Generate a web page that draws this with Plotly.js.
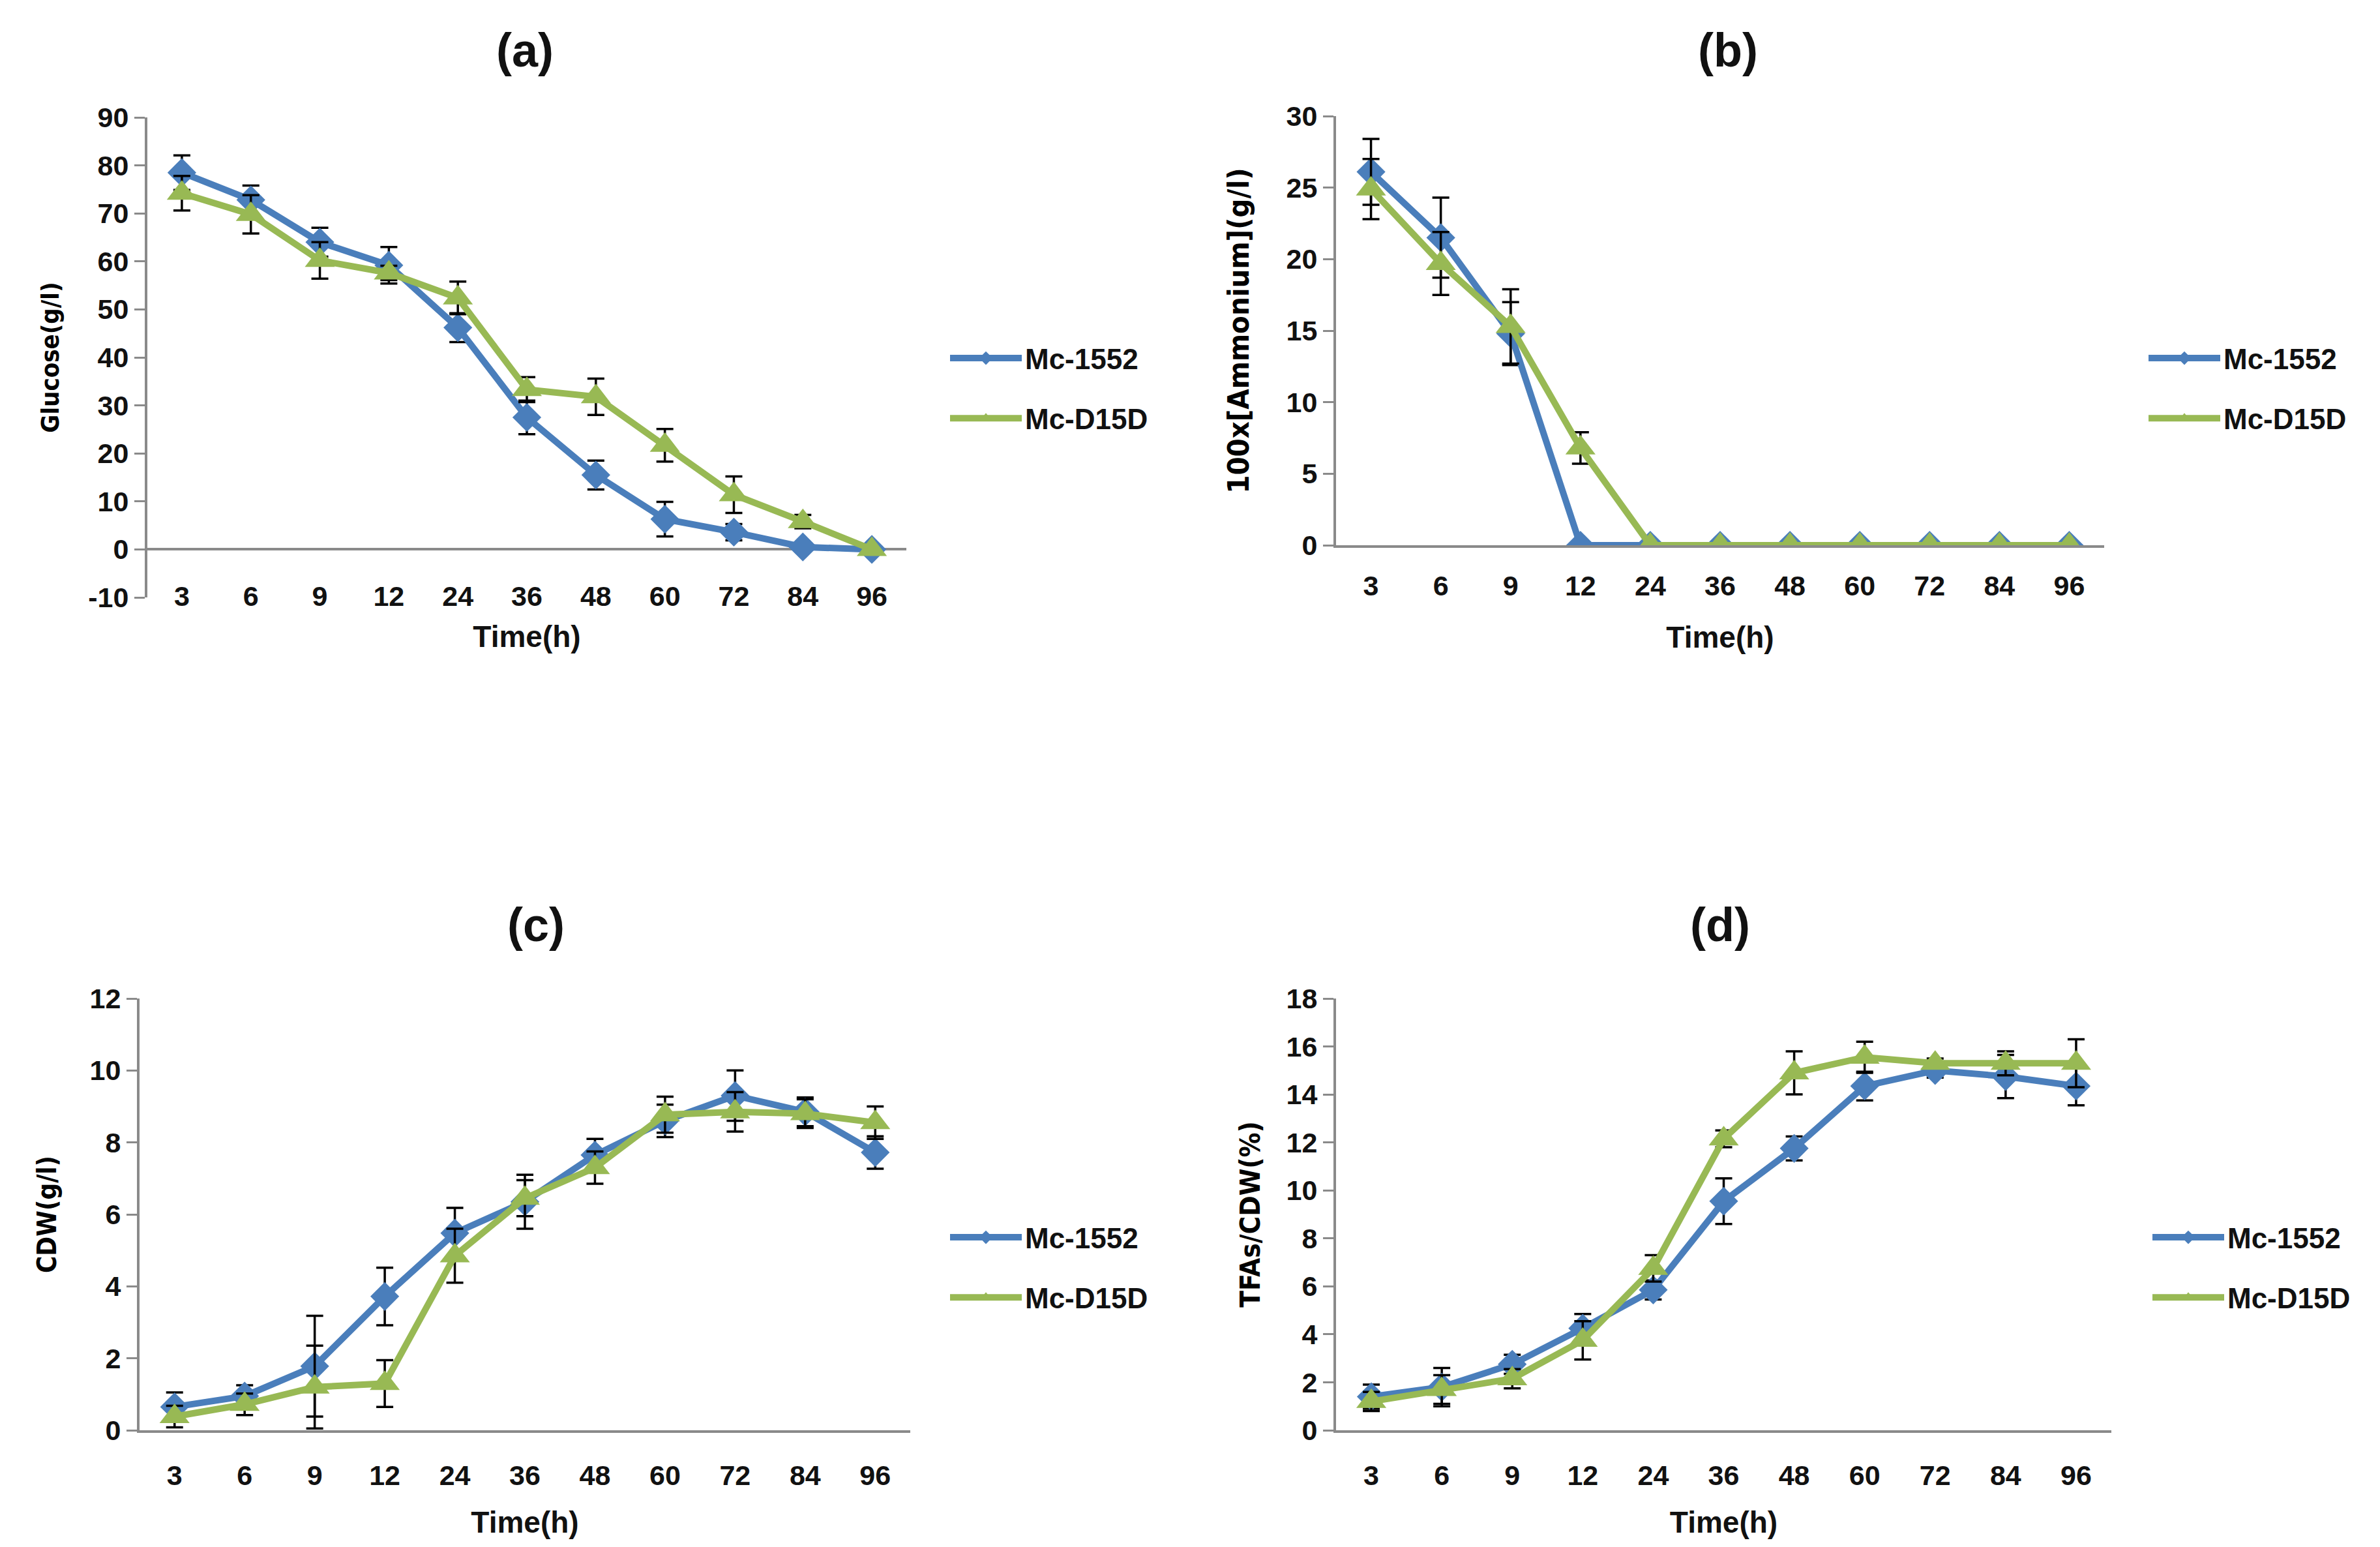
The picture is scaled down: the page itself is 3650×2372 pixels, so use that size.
<!DOCTYPE html>
<html>
<head>
<meta charset="utf-8">
<script src="https://cdn.plot.ly/plotly-3.0.1.min.js"></script>
<style>html,body{margin:0;padding:0;background:#fff;}#chart{width:3650px;height:2372px;}</style>
</head>
<body>
<div id="chart"></div>
<script>
// ---- data ----
const times = ['3','6','9','12','24','36','48','60','72','84','96'];
const seriesNames = ['Mc-1552','Mc-D15D'];

const glucose1552 = [78.5, 72.8, 64.0, 59.2, 46.2, 27.5, 15.5, 6.3, 3.6, 0.5, 0];
const glucose1552Err = [3.6, 3.0, 3.0, 3.8, 3.0, 3.5, 3.0, 3.6, 1.7, 0.5, 0];
const glucoseD15D = [74.2, 69.8, 60.2, 57.6, 52.4, 33.3, 31.8, 21.7, 11.4, 5.8, 0];
const glucoseD15DErr = [3.6, 4.0, 3.8, 1.5, 3.4, 2.6, 3.8, 3.4, 3.8, 1.4, 0];

const ammonium1552 = [26.1, 21.5, 14.8, 0, 0, 0, 0, 0, 0, 0, 0];
const ammonium1552Err = [2.3, 2.8, 2.2, 0, 0, 0, 0, 0, 0, 0, 0];
const ammoniumD15D = [24.9, 19.7, 15.3, 6.8, 0, 0, 0, 0, 0, 0, 0];
const ammoniumD15DErr = [2.1, 2.2, 2.6, 1.1, 0, 0, 0, 0, 0, 0, 0];

const cdw1552 = [0.65, 0.95, 1.78, 3.72, 5.48, 6.35, 7.65, 8.6, 9.3, 8.85, 7.72];
const cdw1552Err = [0.4, 0.3, 1.4, 0.8, 0.7, 0.75, 0.45, 0.45, 0.7, 0.4, 0.45];
const cdwD15D = [0.38, 0.72, 1.2, 1.3, 4.85, 6.45, 7.3, 8.77, 8.85, 8.8, 8.55];
const cdwD15DErr = [0.3, 0.3, 1.15, 0.65, 0.75, 0.5, 0.45, 0.5, 0.55, 0.4, 0.45];

const tfa1552 = [1.4, 1.8, 2.75, 4.25, 5.85, 9.55, 11.75, 14.35, 15.0, 14.75, 14.35];
const tfa1552Err = [0.5, 0.8, 0.4, 0.6, 0.4, 0.95, 0.5, 0.6, 0.3, 0.9, 0.8];
const tfaD15D = [1.2, 1.7, 2.15, 3.75, 6.75, 12.15, 14.9, 15.55, 15.3, 15.3, 15.3];
const tfaD15DErr = [0.4, 0.6, 0.4, 0.8, 0.55, 0.35, 0.9, 0.65, 0.2, 0.5, 1.0];

const glucoseTickVals = [-10, 0, 10, 20, 30, 40, 50, 60, 70, 80, 90];
const glucoseTickText = ['-10', '0', '10', '20', '30', '40', '50', '60', '70', '80', '90'];

const panelLabels = ['(a)','(b)','(c)','(d)'];
const yTitles = ['Glucose(g/l)','100x[Ammonium](g/l)','CDW(g/l)','TFAs/CDW(%)'];
const xTitle = 'Time(h)';

// ---- styles ----
const W = 3650, H = 2372;
const BLUE = '#4a7ebb', GREEN = '#98b954', AX = '#8a8a8a';
const FONT = 'Liberation Sans, Arial, sans-serif';
const YFONT = 'DejaVu Sans Condensed, DejaVu Sans, sans-serif';

const panels = [
  {s1: glucose1552, e1: glucose1552Err, s2: glucoseD15D, e2: glucoseD15DErr},
  {s1: ammonium1552, e1: ammonium1552Err, s2: ammoniumD15D, e2: ammoniumD15DErr},
  {s1: cdw1552, e1: cdw1552Err, s2: cdwD15D, e2: cdwD15DErr},
  {s1: tfa1552, e1: tfa1552Err, s2: tfaD15D, e2: tfaD15DErr}
];

const px = v => v / W;
const py = v => 1 - v / H;

const geo = [
  {x0: 226, x1: 1390, yTop: 180, yBot: 916, range: [-10, 90], dtick: 10, legX: 1452, legY: 514, titleX: 805, titleY: 77, ytSize: 38, ytStand: 34, lblStand: 0, xtStand: 22},
  {x0: 2049, x1: 3227, yTop: 178, yBot: 836, range: [0, 30], dtick: 5, legX: 3290, legY: 514, titleX: 2650, titleY: 77, ytSize: 45, ytStand: 44, lblStand: 21, xtStand: 41},
  {x0: 214, x1: 1396, yTop: 1531, yBot: 2193, range: [0, 12], dtick: 2, legX: 1452, legY: 1862, titleX: 822, titleY: 1418, ytSize: 40, ytStand: 40, lblStand: 28, xtStand: 34},
  {x0: 2049, x1: 3238, yTop: 1531, yBot: 2193, range: [0, 18], dtick: 2, legX: 3296, legY: 1862, titleX: 2638, titleY: 1418, ytSize: 42, ytStand: 28, lblStand: 28, xtStand: 34}
];

const errStyle = (arr) => ({type: 'data', array: arr, visible: true, color: '#000', thickness: 3.5, width: 13});

const traces = [];
panels.forEach((p, i) => {
  const n = i === 0 ? '' : String(i + 1);
  const leg = i === 0 ? 'legend' : 'legend' + (i + 1);
  traces.push({
    x: times, y: p.s1, name: seriesNames[0], type: 'scatter', mode: 'lines+markers',
    xaxis: 'x' + n, yaxis: 'y' + n, legend: leg, legendgroup: 'a' + i,
    line: {color: BLUE, width: 10},
    marker: {symbol: 'diamond', size: 34, color: BLUE},
    error_y: errStyle(p.e1)
  });
  traces.push({
    x: times, y: p.s2, name: seriesNames[1], type: 'scatter', mode: 'lines+markers',
    xaxis: 'x' + n, yaxis: 'y' + n, legend: leg, legendgroup: 'b' + i,
    line: {color: GREEN, width: 10},
    marker: {symbol: 'triangle-up', size: 40, color: GREEN},
    error_y: errStyle(p.e2)
  });
});

const layout = {
  width: W, height: H,
  margin: {l: 0, r: 0, t: 0, b: 0},
  paper_bgcolor: '#fff', plot_bgcolor: '#fff',
  font: {family: FONT, color: '#000'},
  annotations: []
};

geo.forEach((g, i) => {
  const n = i === 0 ? '' : String(i + 1);
  const xa = {
    type: 'category', domain: [px(g.x0), px(g.x1)], range: [-0.5, 10.5],
    showgrid: false, zeroline: false, ticks: '',
    tickfont: {family: FONT, size: 43, weight: 'bold', color: '#111'},
    title: {text: xTitle, font: {family: FONT, size: 46, weight: 'bold', color: '#111'}, standoff: g.xtStand},
    fixedrange: true
  };
  if (i === 0) {
    xa.anchor = 'free';
    xa.position = py(885);
    xa.showline = false;
  } else {
    xa.anchor = 'y' + n;
    xa.showline = true; xa.linecolor = AX; xa.linewidth = 4;
    xa.ticklabelstandoff = g.lblStand;
  }
  const ya = {
    domain: [py(g.yBot), py(g.yTop)], range: g.range,
    anchor: 'x' + n,
    showgrid: false, showline: true, linecolor: AX, linewidth: 4,
    ticks: 'outside', ticklen: 16, tickwidth: 3, tickcolor: AX,
    zeroline: i === 0, zerolinecolor: AX, zerolinewidth: 4,
    tickfont: {family: FONT, size: 43, weight: 'bold', color: '#111'},
    title: {text: yTitles[i], font: {family: YFONT, size: g.ytSize, weight: 'bold', color: '#000'}, standoff: g.ytStand},
    fixedrange: true
  };
  if (i === 0) {
    ya.tickmode = 'array'; ya.tickvals = glucoseTickVals; ya.ticktext = glucoseTickText;
  } else {
    ya.dtick = g.dtick;
  }
  layout['xaxis' + n] = xa;
  layout['yaxis' + n] = ya;
  const legName = i === 0 ? 'legend' : 'legend' + (i + 1);
  layout[legName] = {
    x: px(g.legX), xanchor: 'left', y: py(g.legY), yanchor: 'top',
    font: {family: FONT, size: 44, weight: 'bold', color: '#111'},
    bgcolor: 'rgba(0,0,0,0)', borderwidth: 0,
    itemwidth: 110, tracegroupgap: 32, traceorder: 'grouped'
  };
  layout.annotations.push({
    text: panelLabels[i], xref: 'paper', yref: 'paper',
    x: px(g.titleX), y: py(g.titleY), xanchor: 'center', yanchor: 'middle',
    showarrow: false, font: {family: FONT, size: 72, weight: 'bold', color: '#111'}
  });
});

Plotly.newPlot('chart', traces, layout, {displayModeBar: false, staticPlot: true});
</script>
</body>
</html>
